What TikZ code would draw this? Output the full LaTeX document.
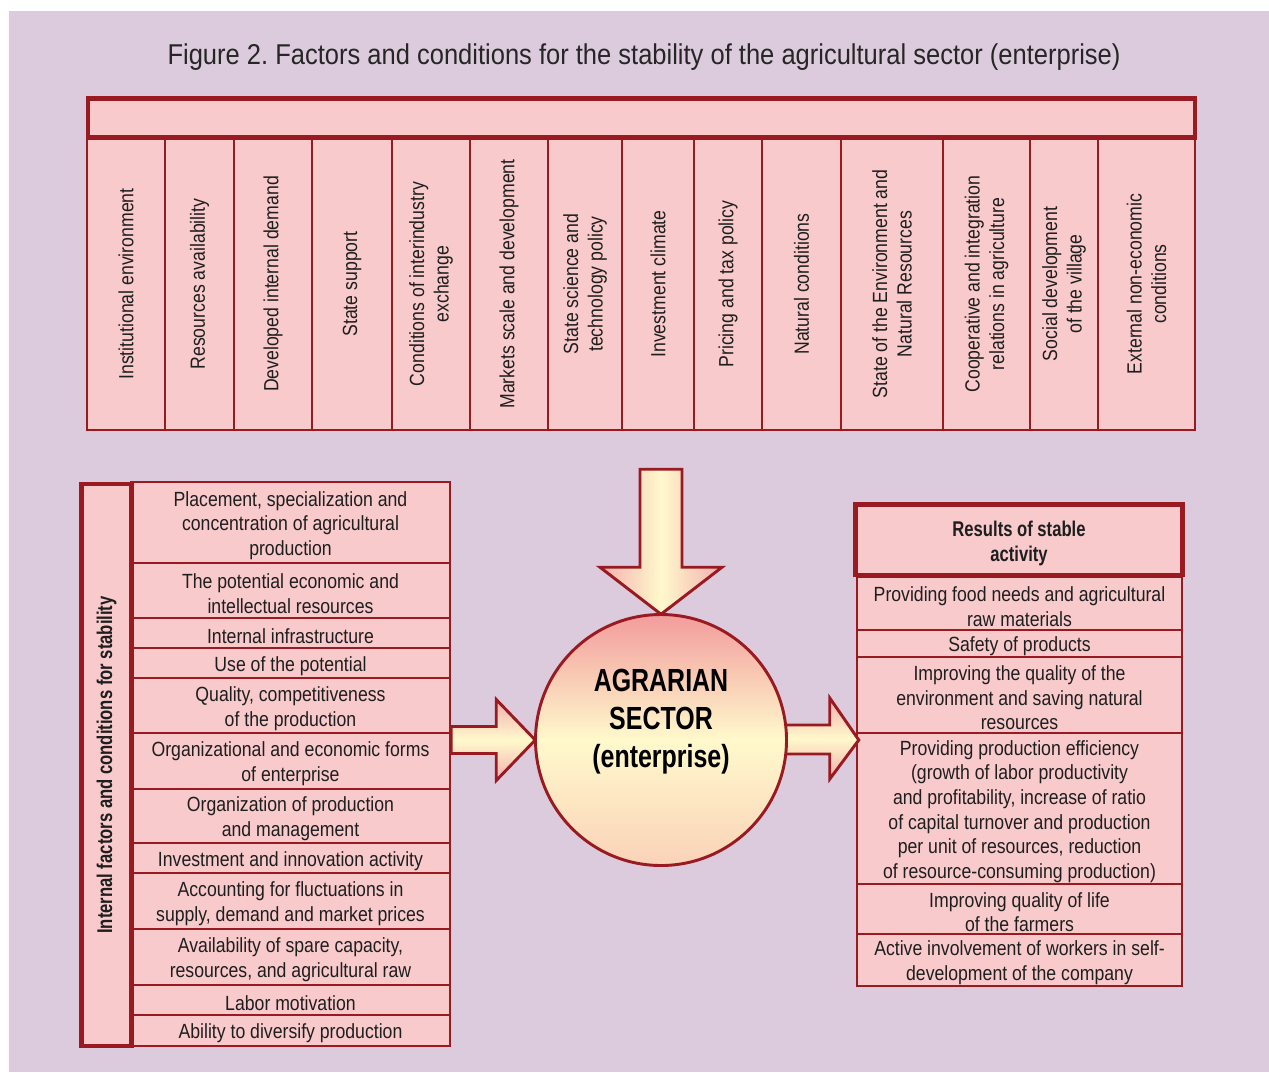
\documentclass[tikz,border=0pt]{standalone}
\usepackage{fontspec}
\setmainfont{Liberation Sans}[FakeStretch=0.86, BoldFeatures={FakeStretch=0.78}]
\newfontfamily\titlefont{Liberation Sans}[FakeStretch=0.89]
\usetikzlibrary{calc}

\definecolor{bgl}{HTML}{DCCBDC}
\definecolor{dred}{HTML}{9A1A21}
\definecolor{pinkf}{HTML}{F8CACC}
\definecolor{paley}{HTML}{FFF9CC}
\definecolor{salmon}{HTML}{F29C9C}
\definecolor{peach}{HTML}{FAD2B8}
\definecolor{arrowpink}{HTML}{F3AFAF}
\definecolor{ink}{HTML}{1E1E1E}
\definecolor{titleink}{HTML}{262626}

% cell of a list: name, x1, y1, x2, y2, text
\newcommand\listcell[6]{%
  \node[cell, minimum width={(#4-#2)*0.75pt}, minimum height={(#5-#3)*0.75pt}]
    (#1) at ({(#2+#4)/2},{(#3+#5)/2}) {};
  \node[celltext] (#1text) at ([yshift=-2.2pt]#1.center) {#6};}

\begin{document}
\frenchspacing
\begin{tikzpicture}[x=0.75pt, y=-0.75pt,
  every node/.style={text=ink, font=\fontsize{15.4}{18.4}\selectfont},
  cell/.style={draw=dred, line width=1.5pt, fill=pinkf, align=center, inner sep=0pt},
  celltext/.style={align=center, inner sep=0pt},
  frame/.style={draw=dred, line width=3.4pt, fill=pinkf, inner sep=0pt, align=center},
  blockarrow/.style={draw=dred, line width=2.2pt, line join=miter},
]
% canvas
\useasboundingbox (0,0) rectangle (1269,1072);
\fill[white] (0,0) rectangle (1269,1072);
\fill[bgl] (9,11) rectangle (1269,1072);

% title
\node[text=titleink, font=\titlefont\fontsize{21.5}{26}\selectfont] (title) at (644,57)
  {Figure 2. Factors and conditions for the stability of the agricultural sector (enterprise)};

% external factors: columns under a common header bar
\foreach \xa/\xb/\t [count=\i] in {
  87/165/{Institutional environment},
  165/234/{Resources availability},
  234/312/{Developed internal demand},
  312/392/{State support},
  392/470/{Conditions of interindustry\\exchange},
  470/548/{Markets scale and development},
  548/622/{State science and\\technology policy},
  622/694/{Investment climate},
  694/762/{Pricing and tax policy},
  762/841/{Natural conditions},
  841/943/{State of the Environment and\\Natural Resources},
  943/1030/{Cooperative and integration\\relations in agriculture},
  1030/1098/{Social development\\of the village},
  1098/1195/{External non-economic\\conditions}}
  \node[cell, rotate=90, minimum width={292*0.75pt}, minimum height={(\xb-\xa)*0.75pt}]
    (col\i) at ({(\xa+\xb)/2},284) {\t};
\node[frame, minimum width={1107*0.75pt}, minimum height={39*0.75pt}] (external) at (641.5,118) {};

% internal factors
\listcell{in1}{131}{482}{450}{563}{Placement, specialization and\\concentration of agricultural\\production}
\listcell{in2}{131}{563}{450}{618}{The potential economic and\\intellectual resources}
\listcell{in3}{131}{618}{450}{648}{Internal infrastructure}
\listcell{in4}{131}{648}{450}{678}{Use of the potential}
\listcell{in5}{131}{678}{450}{733}{Quality, competitiveness\\of the production}
\listcell{in6}{131}{733}{450}{789}{Organizational and economic forms\\of enterprise}
\listcell{in7}{131}{789}{450}{843}{Organization of production\\and management}
\listcell{in8}{131}{843}{450}{873}{Investment and innovation activity}
\listcell{in9}{131}{873}{450}{929}{Accounting for fluctuations in\\supply, demand and market prices}
\listcell{in10}{131}{929}{450}{985}{Availability of spare capacity,\\resources, and agricultural raw}
\listcell{in11}{131}{985}{450}{1015}{Labor motivation}
\listcell{in12}{131}{1015}{450}{1046}{Ability to diversify production}
\node[frame, rotate=90, minimum width={562*0.75pt}, minimum height={50*0.75pt},
  font=\bfseries\fontsize{16}{19}\selectfont] (internal) at (106.5,765)
  {Internal factors and conditions for stability};

% results
\listcell{res1}{857}{577}{1182}{630}{Providing food needs and agricultural\\raw materials}
\listcell{res2}{857}{630}{1182}{657}{Safety of products}
\listcell{res3}{857}{657}{1182}{733}{Improving the quality of the\\environment and saving natural\\resources}
\listcell{res4}{857}{733}{1182}{884}{Providing production efficiency\\(growth of labor productivity\\and profitability, increase of ratio\\of capital turnover and production\\per unit of resources, reduction\\of resource-consuming production)}
\listcell{res5}{857}{884}{1182}{934}{Improving quality of life\\of the farmers}
\listcell{res6}{857}{934}{1182}{986}{Active involvement of workers in self-\\development of the company}
\node[frame, minimum width={327*0.75pt}, minimum height={70.5*0.75pt}] (results) at (1019,539.75) {};
\node[celltext, font=\bfseries\fontsize{16}{19}\selectfont] (resultstext)
  at ([yshift=-3pt]results.center) {Results of stable\\activity};

% central sector (outline first, so the arrows can be placed on it)
\path (661,740) node[circle, minimum size={251*0.75pt}, inner sep=0pt] (sector) {};

% block arrows into and out of the sector
\begin{scope}[shift={(sector.north)}]
  \path[blockarrow, left color=arrowpink, right color=arrowpink, middle color=paley]
    (0,0) -- (-61,-47) -- (-21,-47) -- (-21,-145) -- (21,-145) -- (21,-47) -- (61,-47) -- cycle;
\end{scope}
\begin{scope}[shift={(sector.west)}]
  \path[blockarrow, top color=arrowpink, bottom color=arrowpink, middle color=paley]
    (0,0) -- (-39,-40.5) -- (-39,-13.5) -- (-84,-13.5) -- (-84,13.5) -- (-39,13.5) -- (-39,40.5) -- cycle;
\end{scope}
\begin{scope}[shift={(sector.east)}]
  \path[blockarrow, top color=arrowpink, bottom color=arrowpink, middle color=paley]
    (72,0) -- (43,-42) -- (43,-15) -- (-6,-15) -- (-6,14) -- (43,14) -- (43,39) -- cycle;
\end{scope}

\node[circle, draw=dred, line width=2.2pt, minimum size={251*0.75pt}, inner sep=0pt,
  top color=salmon, bottom color=peach, middle color=paley] at (sector.center) {};
\node[align=center, text=black, font=\bfseries\fontsize{24}{28.5}\selectfont] (sectorlabel)
  at (661,722) {AGRARIAN\\SECTOR\\(enterprise)};
\end{tikzpicture}
\end{document}
